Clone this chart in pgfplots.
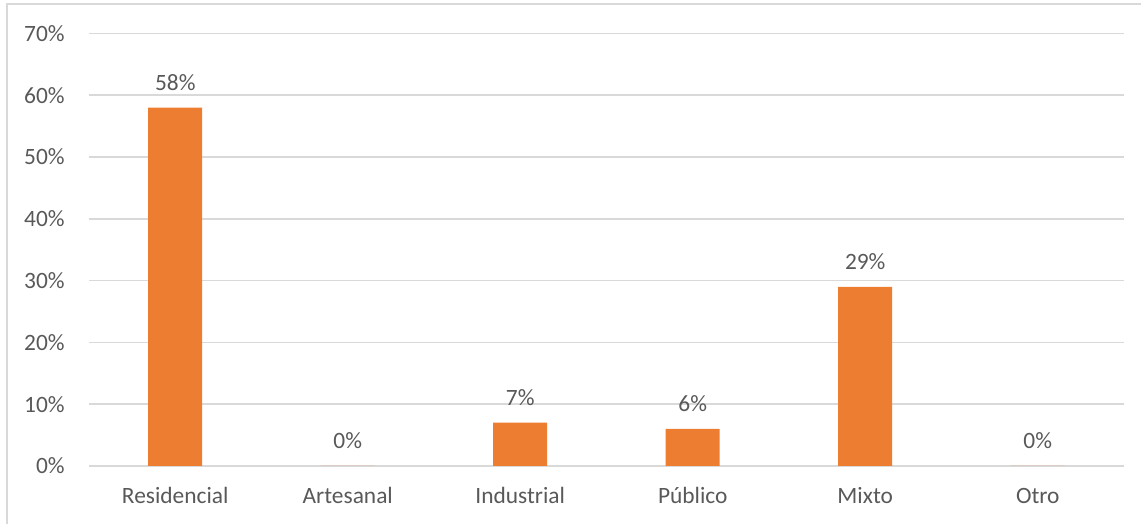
\documentclass[border=0pt]{standalone}
\usepackage{fontspec}
\setmainfont{Carlito}
\usepackage{pgfplots}
\pgfplotsset{compat=1.18}
\definecolor{barorange}{HTML}{ED7D31}
\definecolor{txtgray}{HTML}{595959}
\definecolor{gridgray}{HTML}{D9D9D9}

\begin{document}
\begin{tikzpicture}
\useasboundingbox (0,0) rectangle (570.5pt,262pt);
% chart frame (left and top edges)
\draw[gridgray, line width=0.9pt] (3.5pt,0pt) -- (3.5pt,260pt) -- (570.5pt,260pt);
\begin{axis}[
  at={(44.5pt,29pt)}, anchor=south west,
  scale only axis, width=517.5pt, height=216.25pt,
  enlargelimits=false,
  ymin=0, ymax=70, xmin=-0.5, xmax=5.5,
  ytick={0,10,...,70},
  yticklabel={\pgfmathprintnumber{\tick}\%},
  xtick={0,...,5},
  xticklabels={Residencial,Artesanal,Industrial,Público,Mixto,Otro},
  /pgf/number format/assume math mode=true,
  axis line style={draw=none},
  major tick length=0pt,
  ymajorgrids, grid style={gridgray, line width=0.8pt},
  ticklabel style={text=txtgray, font=\fontsize{11.7}{14}\selectfont, inner sep=0pt},
  yticklabel style={anchor=east, xshift=-12pt},
  xticklabel style={anchor=base, yshift=-19pt},
  ybar, bar width=27pt,
  nodes near coords={\pgfmathprintnumber{\pgfplotspointmeta}\%},
  nodes near coords style={anchor=base, yshift=8.5pt, inner sep=0pt, text=txtgray, font=\fontsize{11.7}{14}\selectfont},
]
\addplot[fill=barorange, draw=none] coordinates {
  (0,58) (1,0) (2,7) (3,6) (4,29) (5,0)
};
\end{axis}
\end{tikzpicture}
\end{document}
